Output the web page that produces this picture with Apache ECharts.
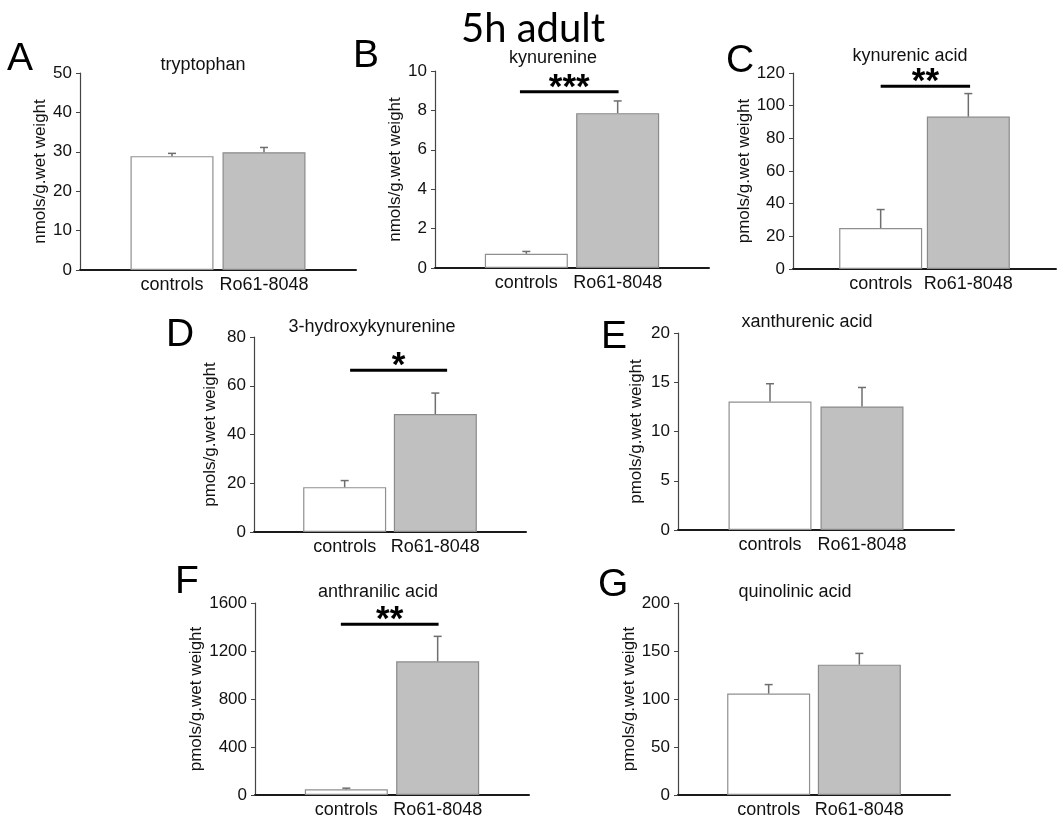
<!DOCTYPE html>
<html>
<head>
<meta charset="utf-8">
<script src="https://cdn.jsdelivr.net/npm/echarts@6/dist/echarts.min.js"></script>
<style>html,body{margin:0;padding:0;background:#fff;}#c{width:1059px;height:819px;}</style>
</head>
<body>
<div id="c"></div>
<script>
// ---- data ----
const categories = ['controls', 'Ro61-8048'];
const panelLetters = ['A', 'B', 'C', 'D', 'E', 'F', 'G'];
const panelTitles = ['tryptophan', 'kynurenine', 'kynurenic acid', '3-hydroxykynurenine', 'xanthurenic acid', 'anthranilic acid', 'quinolinic acid'];
const yAxisNames = ['nmols/g.wet weight', 'nmols/g.wet weight', 'pmols/g.wet weight', 'pmols/g.wet weight', 'pmols/g.wet weight', 'pmols/g.wet weight', 'pmols/g.wet weight'];
const controlsMean = [28.9, 0.72, 25.1, 18.4, 13.05, 47, 105.7];
const controlsErr  = [0.7, 0.12, 11.3, 2.7, 1.8, 10, 9.3];
const roMean       = [29.9, 7.86, 93.3, 48.4, 12.54, 1114, 135.8];
const roErr        = [1.2, 0.62, 14.1, 8.6, 1.93, 208, 11.7];
const yMax      = [50, 10, 120, 80, 20, 1600, 200];
const yInterval = [10, 2, 20, 20, 5, 400, 50];
// significance annotations: panel index, label, x-span (in category units), height (data units)
const sigPanel = [1, 2, 3, 5];
const sigLabel = ['***', '**', '*', '**'];
const sigX1 = [0.93, 1.00, 1.06, 0.94];
const sigX2 = [2.01, 2.02, 2.13, 2.01];
const sigY  = [8.95, 111.9, 66.4, 1423];
const mainTitle = '5h adult';

// ---- layout ----
const gridLeft   = [80, 435, 793, 254, 678, 255, 678];
const gridTop    = [73, 71, 73, 337, 333, 603, 603];
const gridHeight = [197, 197, 196, 195, 197, 196, 195];
const gridWidth  = [276, 274, 275, 272, 276, 274, 272];
const nameGaps   = [30, 30, 33, 35, 33, 45, 39];
const titlePos   = [[203, 65], [553, 58], [910, 56], [372, 327], [807, 322], [378, 592], [795, 592]];
const letterPos  = [[7, 59], [353, 56], [726, 61], [166, 335], [601, 337], [175, 582], [598, 585]];

const FONT = "'Liberation Sans', Arial, sans-serif";
const grids = [], xAxes = [], yAxes = [], series = [], graphics = [];

for (let i = 0; i < 7; i++) {
  grids.push({ left: gridLeft[i], top: gridTop[i], width: gridWidth[i], height: gridHeight[i], containLabel: false });
  xAxes.push({
    type: 'value', gridIndex: i, min: 0, max: 3, interval: 1,
    splitLine: { show: false }, axisTick: { show: false },
    axisLine: { show: true, lineStyle: { color: '#1a1a1a', width: 2 } },
    axisLabel: {
      color: '#111', fontSize: 18, fontFamily: FONT, margin: 6,
      formatter: v => (v === 1 ? categories[0] : v === 2 ? categories[1] : '')
    }
  });
  yAxes.push({
    type: 'value', gridIndex: i, min: 0, max: yMax[i], interval: yInterval[i],
    splitLine: { show: false },
    axisLine: { show: true, lineStyle: { color: '#444', width: 1.2 } },
    axisTick: { show: true, length: 4, lineStyle: { color: '#444' } },
    axisLabel: { color: '#111', fontSize: 17, fontFamily: FONT, margin: 8, formatter: v => String(v) },
    name: yAxisNames[i], nameLocation: 'middle', nameGap: nameGaps[i], nameRotate: 90,
    nameTextStyle: { color: '#111', fontSize: 17, fontFamily: FONT }
  });
  series.push({
    type: 'bar', xAxisIndex: i, yAxisIndex: i, barWidth: 83, z: 2,
    data: [
      { value: [1, controlsMean[i]], itemStyle: { color: '#ffffff', borderColor: '#8f8f8f', borderWidth: 1.2 } },
      { value: [2, roMean[i]], itemStyle: { color: '#c0c0c0', borderColor: '#8a8a8a', borderWidth: 1.2 } }
    ]
  });
  series.push({
    type: 'custom', xAxisIndex: i, yAxisIndex: i, z: 5,
    data: [[1, controlsMean[i], controlsErr[i]], [2, roMean[i], roErr[i]]],
    renderItem: function (params, api) {
      const x = api.value(0), y = api.value(1), e = api.value(2);
      const p0 = api.coord([x, y]);
      const p1 = api.coord([x, y + e]);
      const st = { stroke: '#6e6e6e', lineWidth: 1.5 };
      return {
        type: 'group', children: [
          { type: 'line', shape: { x1: p0[0], y1: p0[1], x2: p1[0], y2: p1[1] }, style: st },
          { type: 'line', shape: { x1: p1[0] - 4, y1: p1[1], x2: p1[0] + 4, y2: p1[1] }, style: st }
        ]
      };
    }
  });
  graphics.push({ type: 'text', x: titlePos[i][0], y: titlePos[i][1],
    style: { text: panelTitles[i], font: '18px ' + FONT, fill: '#111', textAlign: 'center', textVerticalAlign: 'middle' } });
  graphics.push({ type: 'text', x: letterPos[i][0], y: letterPos[i][1],
    style: { text: panelLetters[i], font: '39px ' + FONT, fill: '#000', textAlign: 'left', textVerticalAlign: 'middle' } });
}

sigPanel.forEach((pi, k) => {
  const label = sigLabel[k];
  series.push({
    type: 'custom', xAxisIndex: pi, yAxisIndex: pi, z: 6,
    data: [[sigX1[k], sigX2[k], sigY[k]]],
    renderItem: function (params, api) {
      const a = api.coord([api.value(0), api.value(2)]);
      const b = api.coord([api.value(1), api.value(2)]);
      return {
        type: 'group', children: [
          { type: 'line', shape: { x1: a[0], y1: a[1], x2: b[0], y2: a[1] }, style: { stroke: '#000', lineWidth: 3 } },
          { type: 'text', x: (a[0] + b[0]) / 2, y: a[1] + 14,
            style: { text: label, font: 'bold 35px ' + FONT, fill: '#000', textAlign: 'center', textVerticalAlign: 'bottom' } }
        ]
      };
    }
  });
});

graphics.push({ type: 'text', x: 533, y: 29,
  style: { text: mainTitle, font: '40px Lato, "Open Sans", sans-serif', fill: '#000', textAlign: 'center', textVerticalAlign: 'middle' } });

const chart = echarts.init(document.getElementById('c'), null, { renderer: 'canvas' });
chart.setOption({
  animation: false,
  backgroundColor: '#ffffff',
  grid: grids, xAxis: xAxes, yAxis: yAxes, series: series,
  graphic: graphics
});
</script>
</body>
</html>
